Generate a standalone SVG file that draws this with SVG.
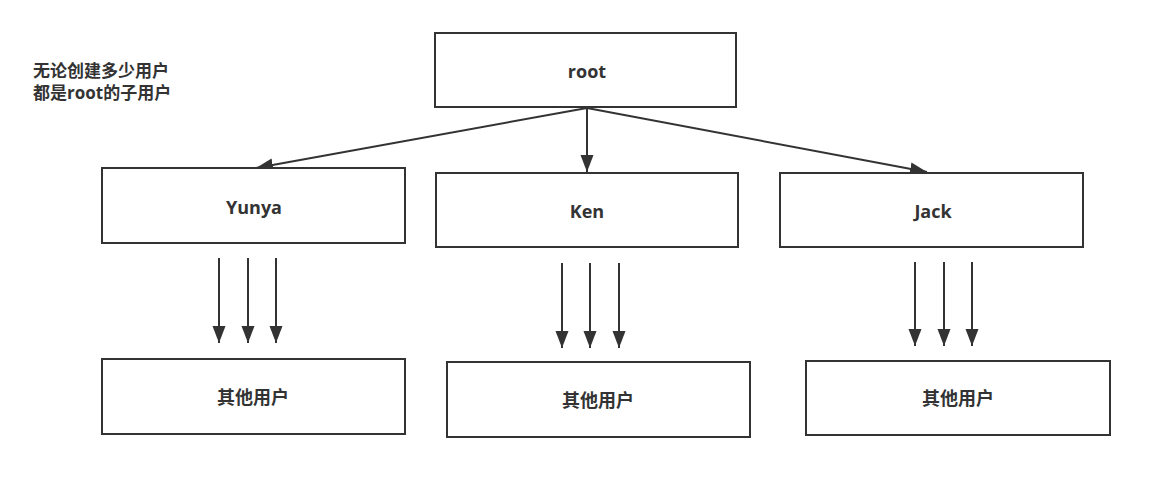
<svg xmlns="http://www.w3.org/2000/svg" width="1157" height="479" viewBox="0 0 1157 479">
<style>
.box{fill:#fff;stroke:#333;stroke-width:2}
.lbl{font-family:"Open Sans","Noto Sans CJK SC",sans-serif;font-weight:bold;font-size:18px;fill:#333;text-anchor:middle;dominant-baseline:central}
.note{font-family:"Open Sans","Noto Sans CJK SC",sans-serif;font-weight:bold;font-size:17px;fill:#333}
.edge{stroke:#333;stroke-width:2;fill:none;marker-end:url(#ah)}
</style>
<defs>
<marker id="ah" markerUnits="userSpaceOnUse" markerWidth="18" markerHeight="14" viewBox="0 0 18 14" refX="17" refY="7" orient="auto">
<path d="M0,0.5 L17,7 L0,13.5 Z" fill="#333"/>
</marker>
</defs>
<rect width="1157" height="479" fill="#fff"/>
<g id="note">
<text class="note" x="33" y="77">无论创建多少用户</text>
<text class="note" x="33" y="99">都是root的子用户</text>
</g>
<g id="connectors">
<path class="edge" d="M587,108 L256,168"/>
<path class="edge" d="M587,108 L587,172"/>
<path class="edge" d="M587,108 L927,172"/>
<path class="edge" d="M219,258 L219,343"/>
<path class="edge" d="M248,258 L248,343"/>
<path class="edge" d="M276,258 L276,343"/>
<path class="edge" d="M562,263 L562,348"/>
<path class="edge" d="M590,263 L590,348"/>
<path class="edge" d="M619,263 L619,348"/>
<path class="edge" d="M915,262 L915,346"/>
<path class="edge" d="M944,262 L944,346"/>
<path class="edge" d="M972,262 L972,346"/>
</g>
<g id="root"><rect class="box" x="435" y="33" width="301" height="74"/><text class="lbl" x="587" y="71">root</text></g>
<g id="yunya"><rect class="box" x="102" y="168" width="303" height="75"/><text class="lbl" x="254" y="207">Yunya</text></g>
<g id="ken"><rect class="box" x="436" y="173" width="302" height="74"/><text class="lbl" x="587" y="211">Ken</text></g>
<g id="jack"><rect class="box" x="780" y="173" width="303" height="74"/><text class="lbl" x="933" y="211">Jack</text></g>
<g id="other1"><rect class="box" x="102" y="359" width="303" height="75"/><text class="lbl" x="253" y="397">其他用户</text></g>
<g id="other2"><rect class="box" x="447" y="362" width="303" height="75"/><text class="lbl" x="598" y="400">其他用户</text></g>
<g id="other3"><rect class="box" x="806" y="361" width="304" height="74"/><text class="lbl" x="958" y="398">其他用户</text></g>
</svg>
